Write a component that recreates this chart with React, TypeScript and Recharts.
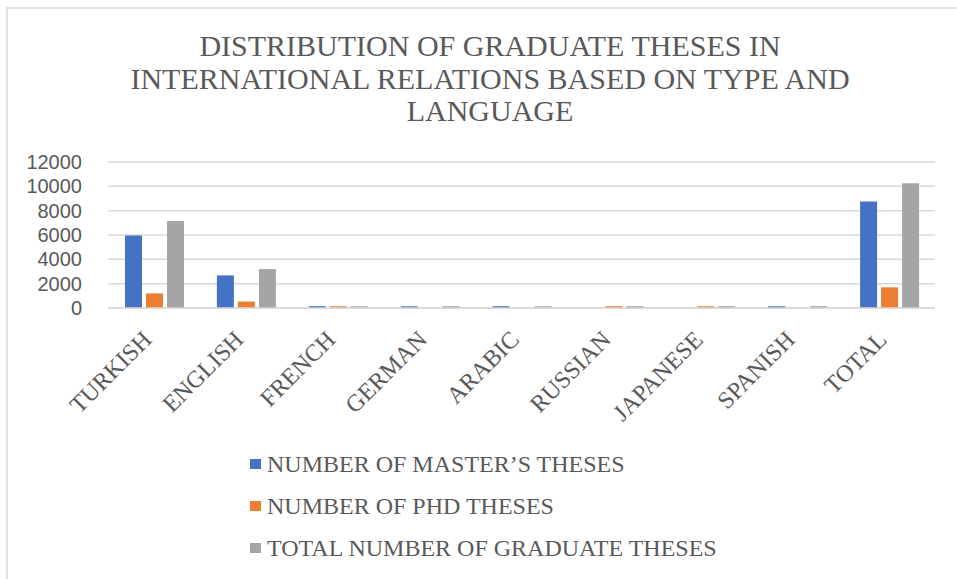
import { BarChart, Bar, XAxis, YAxis, CartesianGrid, Legend } from 'recharts'

const languages = ['TURKISH', 'ENGLISH', 'FRENCH', 'GERMAN', 'ARABIC', 'RUSSIAN', 'JAPANESE', 'SPANISH', 'TOTAL']
const masters = [5950, 2680, 150, 140, 150, 0, 0, 140, 8750]
const phds = [1200, 530, 140, 0, 0, 150, 140, 0, 1700]
const totals = [7150, 3200, 140, 150, 140, 150, 150, 150, 10250]
const yTicks = [0, 2000, 4000, 6000, 8000, 10000, 12000]
const titleLines = [
  'DISTRIBUTION OF GRADUATE THESES IN',
  'INTERNATIONAL RELATIONS BASED ON TYPE AND',
  'LANGUAGE'
]

const seriesInfo = [
  { key: 'masters', name: 'NUMBER OF MASTER\u2019S THESES', color: '#4472C4' },
  { key: 'phds', name: 'NUMBER OF PHD THESES', color: '#ED7D31' },
  { key: 'totals', name: 'TOTAL NUMBER OF GRADUATE THESES', color: '#A5A5A5' }
]

const chartData = languages.map((lang, i) => ({
  lang,
  masters: masters[i],
  phds: phds[i],
  totals: totals[i]
}))

const TEXT = '#595959'
const SERIF = 'Liberation Serif, Tinos, Times New Roman, DejaVu Serif, serif'

const AngledTick = ({ x, y, payload }: any) => (
  <text
    x={x - 1}
    y={y + 33}
    transform={`rotate(-45, ${x - 1}, ${y + 33})`}
    textAnchor='end'
    fill={TEXT}
    fontSize={24}
    style={{ fontFamily: SERIF }}
  >
    {payload.value}
  </text>
)

const LegendList = () => (
  <div style={{ fontFamily: SERIF, fontSize: 24, color: TEXT }}>
    {seriesInfo.map(s => (
      <div key={s.key} style={{ display: 'flex', alignItems: 'center', height: 42, whiteSpace: 'nowrap' }}>
        <span style={{ width: 11, height: 10, background: s.color, marginRight: 6, display: 'inline-block' }} />
        {s.name}
      </div>
    ))}
  </div>
)

export default function App() {
  return (
    <div style={{ position: 'absolute', left: 0, top: 0, width: 957, height: 579, background: '#fff', overflow: 'hidden' }}>
      {/* frame of the original chart box */}
      <div
        style={{
          position: 'absolute',
          left: 6,
          top: 7,
          width: 1000,
          height: 620,
          border: '2px solid #e3e3e3',
          boxSizing: 'border-box'
        }}
      />
      <div
        style={{
          position: 'absolute',
          left: 0,
          width: 980,
          top: 30,
          textAlign: 'center',
          fontFamily: SERIF,
          fontSize: 30,
          lineHeight: '32.5px',
          color: TEXT
        }}
      >
        {titleLines.map(t => (
          <div key={t} style={{ whiteSpace: 'nowrap' }}>{t}</div>
        ))}
      </div>
      <div style={{ position: 'absolute', left: 0, top: 0 }}>
        <BarChart
          width={957}
          height={579}
          data={chartData}
          margin={{ top: 162, right: 22, left: 0, bottom: 171 }}
          barCategoryGap='18.5%'
          barGap={4}
          style={{ fontFamily: SERIF }}
        >
          <CartesianGrid vertical={false} stroke='#D9D9D9' strokeWidth={1.5} />
          <XAxis
            dataKey='lang'
            height={100}
            interval={0}
            tickSize={0}
            tickMargin={0}
            tick={<AngledTick />}
            axisLine={{ stroke: '#D9D9D9', strokeWidth: 1.5 }}
            tickLine={false}
          />
          <YAxis
            width={108}
            domain={[0, 12000]}
            ticks={yTicks}
            interval={0}
            axisLine={false}
            tickLine={false}
            tickSize={0}
            tickMargin={26}
            tick={{ fill: TEXT, fontSize: 20, style: { fontFamily: 'Liberation Sans, Arial, sans-serif' } }}
          />
          <Legend
            layout='vertical'
            align='center'
            verticalAlign='middle'
            content={<LegendList />}
            wrapperStyle={{ top: 443, left: 250, width: 'auto' }}
          />
          {seriesInfo.map(s => (
            <Bar key={s.key} dataKey={s.key} name={s.name} fill={s.color} isAnimationActive={false} />
          ))}
        </BarChart>
      </div>
    </div>
  )
}
